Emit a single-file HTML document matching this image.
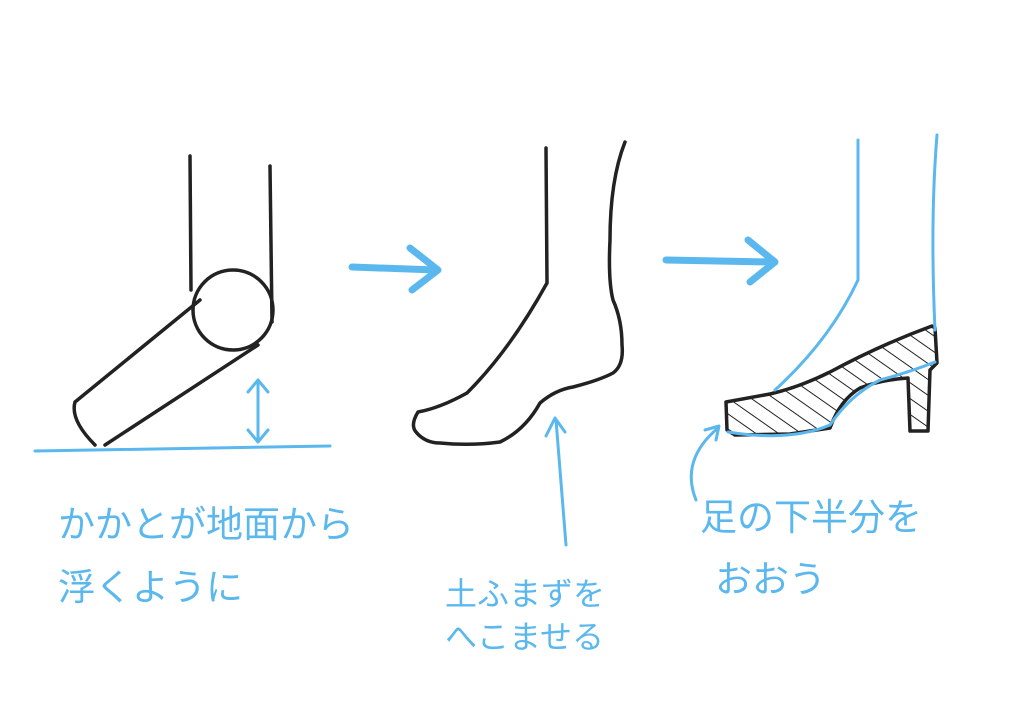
<!DOCTYPE html>
<html><head><meta charset="utf-8"><style>
html,body{margin:0;padding:0;background:#fff;width:1024px;height:724px;overflow:hidden}
svg{display:block}
text{font-family:"Liberation Sans","Noto Sans CJK JP",sans-serif;fill:#5bb8ee}
</style></head><body>
<svg width="1024" height="724" viewBox="0 0 1024 724">
<defs>
<pattern id="h" width="13" height="13" patternUnits="userSpaceOnUse" patternTransform="rotate(-55)">
<line x1="0" y1="0" x2="0" y2="13" stroke="#222" stroke-width="2"/>
</pattern>
</defs>
<g fill="none" stroke="#222" stroke-width="3.5" stroke-linecap="round" stroke-linejoin="round">
<path d="M190 156 L191 290"/>
<path d="M270 166 L272 322"/>
<circle cx="233" cy="310" r="40"/>
<path d="M200 300 L75 402 Q70 420 95 445"/>
<path d="M258 345 L105 445"/>
<path d="M546 148 L547 283 Q510 350 467 393 Q440 408 418 412 Q410 425 416 432 Q425 443 440 443 Q470 446 500 442 Q525 430 540 403 Q555 390 573 387 Q600 380 613 373 Q624 365 622 345 Q622 320 613 300 Q608 280 610 240 Q610 180 625 142"/>
<path d="M726 402 L770 394 Q800 387 830 372 Q880 345 932 326 L935 328 L937 363 L930 370 L928 431 L910 431 L908 378 Q880 380 860 388 Q840 400 830 428 L790 434 L735 435 L727 430 Z" fill="url(#h)"/>
</g>
<g fill="none" stroke="#5bb8ee" stroke-width="3" stroke-linecap="round" stroke-linejoin="round">
<path d="M35 451 L330 446"/>
<path d="M258 382 L258 440 M248 392 L258 380 L268 392 M248 430 L258 442 L268 430"/>
<path d="M858 140 L858 280 Q830 340 775 390"/>
<path d="M937 135 Q930 220 935 330"/>
<path d="M728 432 Q790 442 830 425 Q850 395 880 380 Q910 372 935 362"/>
<path d="M566 545 L556 420 M546 436 L555 418 L565 432"/>
<path d="M696 500 Q680 460 718 428 M705 430 L719 426 L716 440"/>
</g>
<g fill="none" stroke="#5bb8ee" stroke-width="7" stroke-linecap="round" stroke-linejoin="round">
<path d="M352 267 L436 270 M410 248 L438 270 L412 290"/>
<path d="M666 260 L772 262 M748 240 L775 262 L750 282"/>
</g>
<text x="58" y="537" font-size="37">かかとが地面から</text>
<text x="58" y="600" font-size="37">浮くように</text>
<text x="445" y="605" font-size="32">土ふまずを</text>
<text x="445" y="648" font-size="32">へこませる</text>
<text x="700" y="530" font-size="37">足の下半分を</text>
<text x="715" y="592" font-size="37">おおう</text>
</svg>
</body></html>
